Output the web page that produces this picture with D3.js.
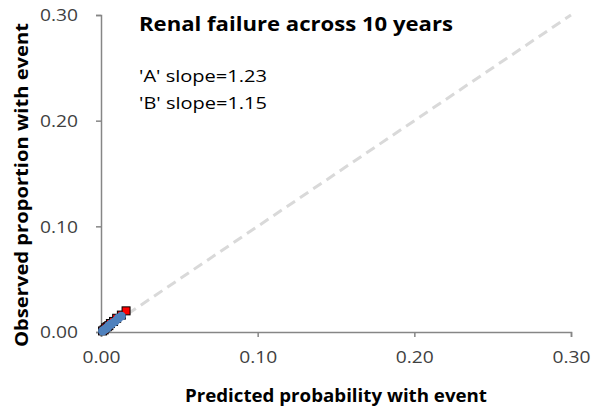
<!DOCTYPE html>
<html><head><meta charset="utf-8">
<script src="https://cdn.jsdelivr.net/npm/d3@7"></script>
<style>body{margin:0;background:#fff}svg{display:block}text{font-family:"Open Sans",Lato,sans-serif}</style>
</head><body><svg id="c" width="592" height="413"></svg>
<script>
const ticks = [0, 0.10, 0.20, 0.30];
const aPred = [0.001,0.002,0.003,0.004,0.005,0.006,0.008,0.010,0.013,0.016];
const aObs  = [0.001,0.002,0.004,0.005,0.006,0.008,0.010,0.013,0.016,0.020];
const bPred = [0.001,0.002,0.003,0.004,0.005,0.006,0.007,0.009,0.011,0.013];
const bObs  = [0.001,0.002,0.003,0.004,0.006,0.007,0.008,0.010,0.013,0.015];
const title = "Renal failure across 10 years";
const notes = ["'A' slope=1.23", "'B' slope=1.15"];

const svg = d3.select("#c");
const x = d3.scaleLinear().domain([0,0.30]).range([101,571]);
const y = d3.scaleLinear().domain([0,0.30]).range([332,15]);
const axisCol = "#868686";

svg.append("line").attr("x1",x(0)).attr("y1",y(0)).attr("x2",x(0.30)).attr("y2",y(0.30))
  .attr("stroke","#d9d9d9").attr("stroke-width",3).attr("stroke-dasharray","10,6");

const xAx = svg.append("g").attr("transform",`translate(0,${y(0)})`)
  .call(d3.axisBottom(x).tickValues(ticks).tickFormat(d3.format(".2f")).tickSize(5).tickPadding(14));
const yAx = svg.append("g").attr("transform",`translate(${x(0)},0)`)
  .call(d3.axisLeft(y).tickValues(ticks).tickFormat(d3.format(".2f")).tickSize(5).tickPadding(18));
[xAx,yAx].forEach(g=>{
  g.select(".domain").attr("stroke",axisCol).attr("stroke-width",1.5);
  g.selectAll(".tick line").attr("stroke",axisCol).attr("stroke-width",1.5);
  g.selectAll(".tick text").attr("fill","#404040").style("font-size","17px")
    .style("font-family","'Open Sans',Lato,sans-serif")
    .attr("textLength",38).attr("lengthAdjust","spacingAndGlyphs");
});
yAx.selectAll(".tick text").attr("dy","0.35em");

const aData = aPred.map((p,i)=>({p,o:aObs[i]}));
const bData = bPred.map((p,i)=>({p,o:bObs[i]}));
svg.append("g").selectAll("rect").data(aData).join("rect")
  .attr("x",d=>x(d.p)-4).attr("y",d=>y(d.o)-4).attr("width",8).attr("height",8)
  .attr("fill","#ff0000").attr("stroke","#000").attr("stroke-width",1);
svg.append("g").selectAll("circle").data(bData).join("circle")
  .attr("cx",d=>x(d.p)).attr("cy",d=>y(d.o)).attr("r",4.5)
  .attr("fill","#4f81bd");

svg.append("text").attr("x",139).attr("y",31).attr("font-size",20).attr("font-weight","bold").attr("fill","#000")
  .attr("textLength",314).attr("lengthAdjust","spacingAndGlyphs").text(title);
svg.selectAll(".note").data(notes).join("text").attr("class","note")
  .attr("x",139).attr("y",(d,i)=>82+i*27).attr("font-size",17).attr("fill","#000")
  .attr("textLength",128).attr("lengthAdjust","spacingAndGlyphs").text(d=>d);

svg.append("text").attr("x",336).attr("y",402).attr("text-anchor","middle").attr("font-size",18).attr("font-weight","bold").attr("fill","#000")
  .attr("textLength",302).attr("lengthAdjust","spacingAndGlyphs").text("Predicted probability with event");
svg.append("text").attr("transform","translate(28,185) rotate(-90)").attr("text-anchor","middle").attr("font-size",18).attr("font-weight","bold").attr("fill","#000")
  .attr("textLength",324).attr("lengthAdjust","spacingAndGlyphs").text("Observed proportion with event");
</script></body></html>
